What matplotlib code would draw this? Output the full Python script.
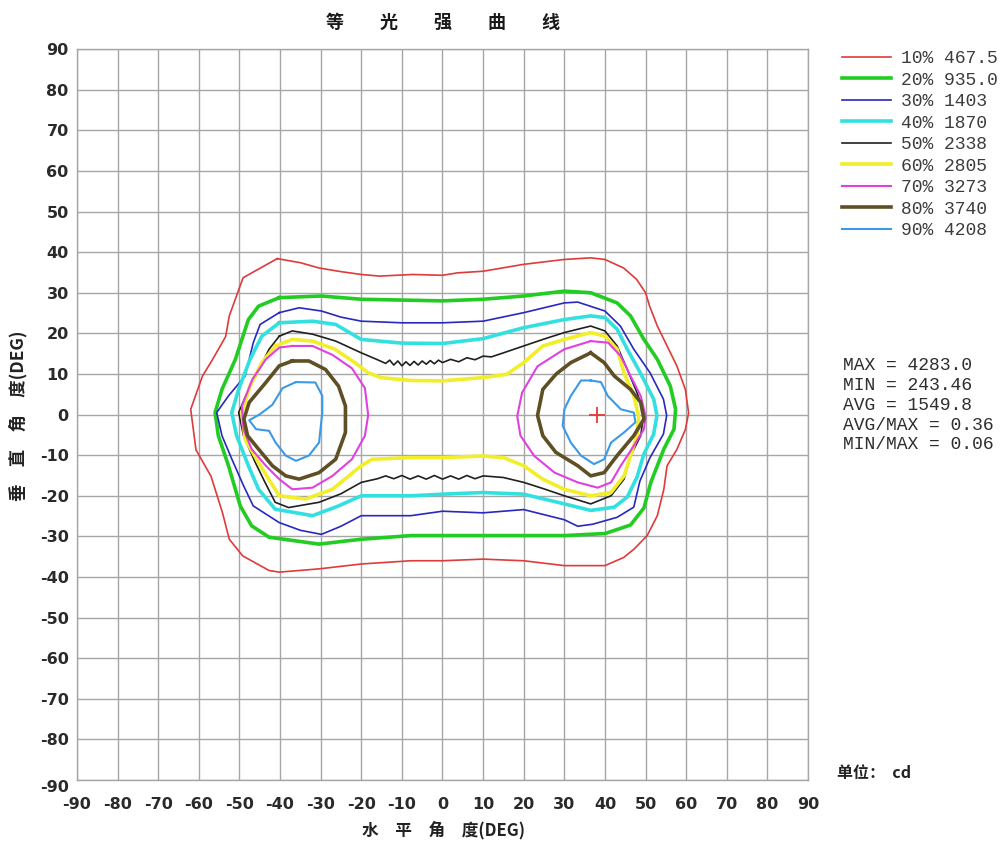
import numpy as np
import matplotlib
matplotlib.use('Agg')
import matplotlib.pyplot as plt

plt.rcParams['font.family'] = ['Noto Sans CJK SC', 'DejaVu Sans']
plt.rcParams['axes.unicode_minus'] = False

# isocandela levels (percent of peak) and legend values in cd
pct = [10, 20, 30, 40, 50, 60, 70, 80, 90]
level_cd = ['467.5', '935.0', '1403', '1870', '2338', '2805', '3273', '3740', '4208']
colors = ['#e03a3a', '#22cc22', '#2828c0', '#33e0e0', '#202020',
          '#f2ee2a', '#e040e0', '#5e5024', '#3a9ae8']
widths = [1.2, 2.6, 1.2, 2.6, 1.2, 2.6, 1.5, 2.6, 1.5]

max_cd = 4283.0
min_cd = 243.46
avg_cd = 1549.8
max_pos = (38, 0)

# contour outlines read as (H, V) angle pairs in degrees
c10 = [(-40.7, 38.4), (-35, 37.4), (-30.4, 36.1), (-25, 35.2), (-20, 34.5), (-15.5, 34.1),
       (-7.3, 34.5), (0, 34.3), (3.7, 34.9), (10, 35.3), (20, 37.0), (30, 38.2), (36.5, 38.6),
       (40, 38.2), (44.6, 36.1), (47.8, 33.3), (50, 30.0), (51, 26.7), (52.9, 21.8),
       (55.3, 16.9), (57.7, 12.0), (59.8, 6.2), (60.6, 0.4), (59.8, -3.7), (57.7, -8.6),
       (55.3, -12.6), (54.5, -18.4), (52.9, -24.9), (50.4, -29.8), (47.2, -33.1),
       (44.6, -35.2), (40, -37.2), (30, -37.2), (20, -36.0), (10, -35.6), (0, -36.0),
       (-7.8, -36.0), (-20, -36.8), (-30.4, -38.0), (-40.2, -38.8), (-42.7, -38.4),
       (-49.2, -34.8), (-52.5, -30.7), (-54.2, -24.1), (-57, -15.2), (-60.7, -8.7),
       (-62, 1.3), (-59.1, 9.5), (-56.6, 13.6), (-53.4, 19.2), (-52.5, 24.3),
       (-49.1, 33.7), (-40.7, 38.4)]
c20 = [(-40.2, 28.8), (-29.8, 29.2), (-20, 28.4), (-10, 28.2), (0, 28.0), (10, 28.4),
       (20, 29.2), (30, 30.4), (36.5, 30.0), (43, 27.5), (46.3, 24.3), (49.6, 18.5),
       (52.9, 13.6), (56.1, 7.0), (57.4, 1.3), (57, -3.6), (54.5, -8.5), (51.3, -16.7),
       (49.6, -23.0), (46.3, -27.2), (40, -29.3), (30, -29.8), (20, -29.8), (10, -29.8),
       (0, -29.8), (-7.8, -29.8), (-20, -30.7), (-30.4, -31.9), (-42.7, -30.2),
       (-47, -27.4), (-49.8, -22.5), (-52.7, -12.6), (-55.2, -5.2), (-56, 0.5),
       (-54.3, 6.2), (-51, 13.6), (-49.4, 18.5), (-47.8, 23.4), (-45.3, 26.7), (-40.2, 28.8)]
c30 = [(-40.2, 25.1), (-35.3, 26.3), (-29.8, 25.5), (-25, 24.0), (-20, 23.0), (-10, 22.6),
       (0, 22.6), (10, 23.0), (20, 25.1), (30, 27.5), (33.3, 27.7), (40, 25.5), (43.8, 21.8),
       (47.1, 16.1), (51.1, 10.3), (54.4, 3.8), (55.2, -0.2), (54.4, -4.8), (51.1, -10.6),
       (48.6, -16.4), (47.1, -22.8), (43, -25.3), (37, -27.0), (33.3, -27.5), (30, -25.9),
       (20, -23.4), (10, -24.2), (0, -23.8), (-7.8, -24.9), (-20, -24.9), (-25, -27.5),
       (-29.8, -29.5), (-35, -28.5), (-40.2, -26.6), (-46.6, -22.5), (-49, -17.5),
       (-51.9, -10.9), (-54.3, -5.2), (-55.6, 0.5), (-52.7, 4.6), (-48.6, 9.5),
       (-46.6, 17.7), (-44.9, 22.2), (-40.2, 25.1)]
c40 = [(-40.2, 22.6), (-32, 23.0), (-26.3, 22.2), (-20, 18.5), (-10, 17.6), (0, 17.5),
       (10, 18.7), (20, 21.4), (30, 23.4), (36.5, 24.3), (40, 23.9), (43, 21.0), (45.5, 16.1),
       (48.7, 10.3), (52, 3.8), (52.8, -0.2), (52, -4.8), (49.6, -9.7), (47.9, -15.4),
       (45.5, -20.3), (42.3, -22.8), (36.5, -23.6), (30, -22.0), (20, -19.6), (10, -19.2),
       (0, -19.6), (-7.8, -20.0), (-20, -20.0), (-25.6, -22.5), (-32, -24.9),
       (-41.2, -23.3), (-45.3, -18.4), (-47.8, -12.6), (-50.7, -5.2), (-51.9, 0.5),
       (-50.2, 6.2), (-47.4, 13.6), (-44.5, 19.3), (-40.2, 22.6)]
c50 = [(-40.2, 19.3), (-37, 20.6), (-32, 19.8), (-26.3, 18.1), (-20, 15.2), (-16, 13.5),
       (-14, 12.6), (-13, 13.4), (-12, 12.2), (-11, 13.2), (-10, 12.0), (-9, 13.0),
       (-8, 12.1), (-7, 13.1), (-6, 12.2), (-5, 13.2), (-4, 12.4), (-3, 13.3), (-2, 12.5),
       (-1, 13.4), (0, 12.8), (2, 13.6), (4, 13.0), (6, 14.0), (8, 13.5), (10, 14.4),
       (12, 14.2), (15, 15.2), (20, 16.9), (25, 18.6), (30, 20.2), (36.5, 21.8), (40, 20.6),
       (43, 16.9), (45.5, 11.1), (47.9, 5.4), (49.6, 0.5), (48.8, -5.2), (46.3, -10.2),
       (44.7, -15.9), (41.5, -20.0), (36.5, -22.0), (30, -20.0), (25, -18.3), (20, -16.7),
       (15, -15.5), (10, -15.1), (8, -15.8), (6, -15.0), (4, -15.9), (2, -15.1), (0, -15.9),
       (-2, -15.0), (-4, -15.9), (-6, -15.1), (-8, -15.9), (-10, -15.0), (-12, -15.8),
       (-14, -15.1), (-16, -15.8), (-20, -16.7), (-25, -19.5), (-30.4, -21.6),
       (-37.9, -22.9), (-41.2, -21.6), (-43.7, -16.7), (-46.1, -11.8), (-49, -5.2),
       (-50.2, 0.5), (-48.1, 5.4), (-46, 9.5), (-42.7, 16.1), (-40.2, 19.3)]
c60 = [(-41.1, 16.9), (-37, 18.5), (-32, 18.1), (-26.5, 16.1), (-21.6, 12.8), (-18.3, 10.3),
       (-15.2, 9.1), (-7.8, 8.4), (0, 8.3), (10, 9.1), (15.8, 9.9), (20, 12.8), (24.7, 16.9),
       (30, 18.5), (36.5, 20.2), (40, 19.3), (43, 16.1), (44.7, 10.3), (47.1, 4.6),
       (48.3, -0.4), (47.9, -5.2), (46.3, -10.1), (44.7, -15.1), (41.5, -19.2), (36.5, -20.0),
       (30, -18.4), (24.7, -15.9), (20, -12.6), (15, -10.6), (10, -10.2), (0, -10.6),
       (-7.8, -10.6), (-17.3, -11.0), (-20, -12.6), (-27.1, -18.4), (-33.7, -20.8),
       (-40.2, -20.0), (-42.8, -15.9), (-45.3, -11.8), (-48.6, -6.1), (-49.4, 0.5),
       (-47.4, 7.0), (-44.5, 12.8), (-41.1, 16.9)]
c70_l = [(-37, 16.9), (-32, 16.9), (-27.1, 14.7), (-22.3, 11.4), (-19.1, 6.5), (-18.3, -0.1),
         (-19.1, -5.2), (-22.3, -11.0), (-27.1, -15.1), (-32, -18.0), (-37, -18.4),
         (-40.2, -15.9), (-43.5, -12.6), (-47, -8.5), (-49, -3.6), (-49.4, 2.1),
         (-46.8, 8.7), (-43.5, 13.6), (-40.2, 16.5), (-37, 16.9)]
c70_r = [(36.5, 18.1), (40.8, 17.7), (43.9, 14.4), (46.3, 9.5), (48.8, 4.6), (50, -0.4),
         (49.6, -3.6), (47.1, -7.7), (43.9, -12.6), (41.5, -16.7), (38.2, -18.0),
         (33.3, -16.7), (27.6, -14.3), (22.6, -10.2), (19.2, -5.2), (18.4, -0.4),
         (19.6, 5.4), (23.4, 11.9), (30, 16.1), (36.5, 18.1)]
c80_l = [(-37, 13.2), (-32.9, 13.2), (-28.8, 11.1), (-25.6, 7.0), (-23.9, 2.1), (-23.9, -4.4),
         (-26.3, -11.0), (-30.4, -14.3), (-35.3, -15.9), (-38.6, -15.1), (-41.9, -12.6),
         (-45.3, -8.5), (-48, -5.2), (-48.9, -1.1), (-47.6, 3.0), (-43.5, 7.9),
         (-40.2, 12.0), (-37, 13.2)]
c80_r = [(36.5, 15.2), (39.8, 12.8), (42.3, 9.5), (46.3, 6.2), (48.8, 3.0), (49.6, -1.1),
         (47.1, -5.2), (43, -10.1), (39.8, -14.3), (36.5, -15.1), (33.3, -12.6),
         (27.9, -9.3), (24.7, -5.2), (23.4, -0.2), (24.7, 6.2), (28, 10.0), (31.6, 12.8),
         (36.5, 15.2)]
c90_l = [(-36.1, 8.0), (-31.3, 7.9), (-29.6, 4.6), (-29.6, 0.5), (-30.4, -6.9),
         (-32.9, -10.1), (-36.1, -11.4), (-38.6, -10.1), (-41.1, -6.9), (-42.7, -4.0),
         (-45.9, -3.6), (-47.6, -1.4), (-45.1, 0.0), (-41.9, 2.4), (-39.4, 6.5), (-36.1, 8.0)]
c90_r = [(36.5, 8.4), (39, 8.0), (40.7, 4.6), (43.9, 1.3), (47.1, 0.5), (47.5, -1.9),
         (44.7, -4.4), (41.5, -6.9), (39.8, -11.0), (37.3, -12.2), (34.1, -10.1),
         (31.6, -6.9), (29.6, -2.8), (30, 1.3), (31.6, 4.6), (34.1, 8.4), (36.5, 8.4)]

outlines = [[c10], [c20], [c30], [c40], [c50], [c60],
            [c70_l, c70_r], [c80_l, c80_r], [c90_l, c90_r]]

fig = plt.figure(figsize=(10, 8.44), dpi=100, facecolor='white')
ax = fig.add_axes([0.077, 0.0758, 0.731, 0.866])

handles = []
for pieces, color, lw in zip(outlines, colors, widths):
    for piece in pieces:
        pts = np.array(piece)
        line, = ax.plot(pts[:, 0], pts[:, 1], color=color, lw=lw, solid_joinstyle='round')
    handles.append(line)

ax.plot(*max_pos, '+', color='#e03a3a', ms=11, mew=1.3)

ax.set_xlim(-90, 90)
ax.set_ylim(-90, 90)
ax.set_xticks(np.arange(-90, 91, 10))
ax.set_yticks(np.arange(-90, 91, 10))
ax.grid(True, color='#a6a6a6', lw=1.0)
ax.set_axisbelow(True)
for sp in ax.spines.values():
    sp.set_color('#a6a6a6')
    sp.set_linewidth(1.0)
ax.tick_params(length=0, labelsize=11.5, labelcolor='#2a2a2a')
ax.tick_params(axis='x', pad=12)
ax.tick_params(axis='y', pad=6)
for lab in ax.get_xticklabels() + ax.get_yticklabels():
    lab.set_family('DejaVu Sans')
    lab.set_fontweight('bold')

# the bottom y label sits a little lower, clear of the x labels
ylabs = ax.get_yticklabels()
ylabs[0].set_verticalalignment('top')

fig.text(0.443, 1 - 22 / 844, '等\u3000\u3000光\u3000\u3000强\u3000\u3000曲\u3000\u3000线',
         ha='center', va='center', fontsize=13, fontweight='bold', color='#1a1a1a')
fig.text(0.443, 1 - 830 / 844, '水\u3000平\u3000角\u3000度(DEG)',
         ha='center', va='center', fontsize=12, fontweight='bold', color='#222222')
fig.text(0.018, 1 - 416 / 844, '垂\u3000直\u3000角\u3000度(DEG)', rotation=90,
         ha='center', va='center', fontsize=12.5, fontweight='bold', color='#222222')

labels = [f'{p}% {v}' for p, v in zip(pct, level_cd)]
leg = fig.legend(handles, labels, loc='upper left', bbox_to_anchor=(0.842, 1 - 50 / 844),
                 frameon=False, handlelength=2.7, handletextpad=0.55, labelspacing=0.25,
                 borderaxespad=0, borderpad=0,
                 prop={'family': 'Liberation Mono', 'size': 13})
for t in leg.get_texts():
    t.set_color('#3c3c3c')

stats = [f'MAX = {max_cd:.1f}', f'MIN = {min_cd:.2f}', f'AVG = {avg_cd:.1f}',
         f'AVG/MAX = {avg_cd / max_cd:.2f}', f'MIN/MAX = {min_cd / max_cd:.2f}']
for i, s in enumerate(stats):
    fig.text(0.843, 1 - (366 + 19.7 * i) / 844, s, ha='left', va='center',
             family='Liberation Mono', fontsize=13, color='#2e2e2e')

fig.text(0.837, 1 - 773 / 844, '单位：  cd', ha='left', va='center',
         fontsize=11.5, fontweight='bold', color='#222222')

fig.savefig('out.png', dpi=100)
